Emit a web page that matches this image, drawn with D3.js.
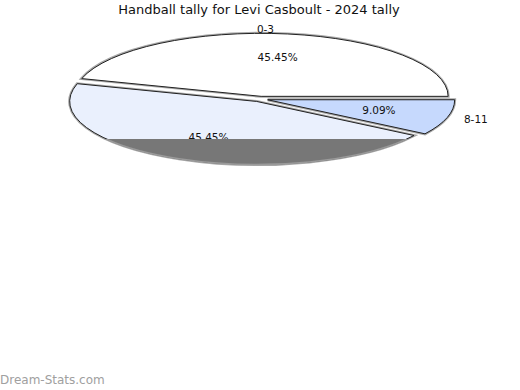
<!DOCTYPE html>
<html>
<head>
<meta charset="utf-8">
<script src="https://cdn.jsdelivr.net/npm/d3@7"></script>
<style>
  body { margin: 0; background: #fff; }
  text { font-family: "DejaVu Sans", sans-serif; }
</style>
</head>
<body>
<div class="chart"></div>
<script>
// data
const categories = ["0-3", "8-11", "4-7"];
const values = [5, 1, 5];
const fills = ["#ffffff", "#c6d9fd", "#eaf0fd"];
// the third slice's own label sits under the dark band in the original, so it is not drawn
const showOuterLabel = [true, true, false];

const width = 520, height = 390;
const cx = 260, cy = 99;      // pie centre
const rx = 187, ry = 63;      // ellipse radii (flattened pie)
const explode = 8;
const bandTop = 139;          // where the dark lower band starts

const total = d3.sum(values);
const start = Math.PI / 2 - 2 * Math.PI * values[0] / total;

let pie = d3.pie()
  .sort(null)
  .value(d => d)
  .startAngle(start)
  .endAngle(start + 2 * Math.PI);
let slices = pie(values);

let arc = d3.arc().innerRadius(0).outerRadius(rx);

let svg = d3.select(".chart").append("svg")
  .attr("width", width)
  .attr("height", height);

svg.append("rect").attr("width", width).attr("height", height).attr("fill", "#fff");

// centre of each exploded slice
function centre(d) {
  let mid = (d.startAngle + d.endAngle) / 2;
  return [cx + explode * Math.sin(mid), cy - explode * Math.cos(mid) * ry / rx];
}
function sliceTransform(d) {
  let c = centre(d);
  return "translate(" + c + ") scale(1," + (ry / rx) + ")";
}

let g = svg.selectAll("g.slice")
  .data(slices)
  .enter()
  .append("g")
    .attr("class", "slice")
    .attr("transform", sliceTransform);

// grey halo round each slice
g.append("path")
  .attr("d", arc)
  .attr("fill", "none")
  .attr("stroke", "#a8a8a8")
  .attr("stroke-width", 3)
  .attr("vector-effect", "non-scaling-stroke");

g.append("path")
  .attr("d", arc)
  .attr("fill", (d, i) => fills[i])
  .attr("stroke", "#222")
  .attr("stroke-width", 1)
  .attr("vector-effect", "non-scaling-stroke");

// percentage labels inside the slices
svg.selectAll("text.pct")
  .data(slices)
  .enter()
  .append("text")
    .attr("class", "pct")
    .attr("x", d => { let mid = (d.startAngle + d.endAngle) / 2; return centre(d)[0] + 0.62 * rx * Math.sin(mid); })
    .attr("y", d => { let mid = (d.startAngle + d.endAngle) / 2; return centre(d)[1] - 0.62 * ry * Math.cos(mid); })
    .attr("dy", "0.35em")
    .attr("text-anchor", "middle")
    .attr("font-size", "10.5px")
    .attr("fill", "#111")
    .text(d => (100 * d.value / total).toFixed(2) + "%");

// category labels outside
svg.selectAll("text.cat")
  .data(slices.filter((d, i) => showOuterLabel[i]))
  .enter()
  .append("text")
    .attr("class", "cat")
    .attr("x", d => { let mid = (d.startAngle + d.endAngle) / 2; let s = Math.sin(mid); return centre(d)[0] + 1.14 * rx * s * Math.abs(s); })
    .attr("y", d => { let mid = (d.startAngle + d.endAngle) / 2; return centre(d)[1] - 1.08 * ry * Math.cos(mid); })
    .attr("dy", "0.35em")
    .attr("text-anchor", d => { let s = Math.sin((d.startAngle + d.endAngle) / 2); return s > 0.5 ? "start" : (s < -0.5 ? "end" : "middle"); })
    .attr("font-size", "10.5px")
    .attr("fill", "#111")
    .text(d => categories[d.index]);

// dark lower band over the big bottom slice
svg.append("clipPath")
  .attr("id", "band")
  .append("rect")
    .attr("x", 0).attr("y", bandTop)
    .attr("width", width).attr("height", height - bandTop);

svg.append("g")
  .attr("clip-path", "url(#band)")
  .append("path")
    .datum(slices[2])
    .attr("transform", sliceTransform)
    .attr("d", arc)
    .attr("fill", "#777")
    .attr("stroke", "#9a9a9a")
    .attr("stroke-width", 1.5)
    .attr("vector-effect", "non-scaling-stroke");

// title
svg.append("text")
  .attr("x", 259)
  .attr("y", 14)
  .attr("text-anchor", "middle")
  .attr("font-size", "13px")
  .attr("fill", "#111")
  .text("Handball tally for Levi Casboult - 2024 tally");

// watermark
svg.append("text")
  .attr("x", 0)
  .attr("y", 384)
  .attr("font-size", "12px")
  .attr("fill", "#a0a0a0")
  .text("Dream-Stats.com");
</script>
</body>
</html>
